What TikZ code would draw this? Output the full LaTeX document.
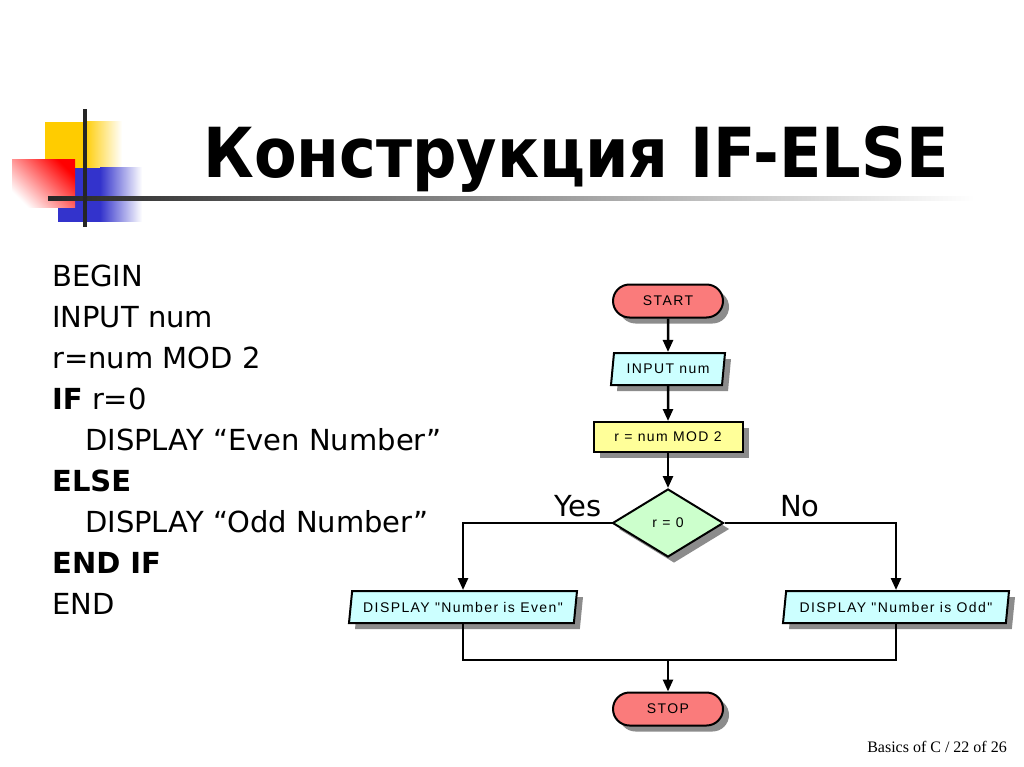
\documentclass[tikz,border=0pt]{standalone}
\usepackage{fontspec}
\setmainfont{DejaVu Sans}
\newfontfamily\titlefont{DejaVu Sans Condensed}
\newfontfamily\fcfont[LetterSpace=10]{Liberation Sans}
\newfontfamily\footfont{Liberation Serif}
\usetikzlibrary{shapes.geometric,shapes.misc,shadows,arrows.meta}
\definecolor{termred}{HTML}{FA7B7B}
\definecolor{iocyan}{HTML}{CCFFFF}
\definecolor{procyel}{HTML}{FFFF99}
\definecolor{decgreen}{HTML}{CCFFCC}
\definecolor{shadowgray}{HTML}{8C8C8C}
\definecolor{decoyellow}{HTML}{FFCC00}
\definecolor{decoblue}{HTML}{3333CC}
\tikzset{
  fcbase/.style={draw=black, line width=2pt, font=\fcfont\fontsize{14}{16}\selectfont,
    inner sep=0pt, text=black,
    drop shadow={shadow xshift=6pt, shadow yshift=-6pt, fill=shadowgray, opacity=1}},
  fcterm/.style={fcbase, rounded rectangle, fill=termred, minimum width=110pt, minimum height=33pt},
  fcio/.style={fcbase, trapezium, trapezium left angle=73, trapezium right angle=107,
    trapezium stretches body, fill=iocyan, minimum height=32pt},
  fcproc/.style={fcbase, rectangle, fill=procyel, minimum width=149pt, minimum height=30pt},
  fcdec/.style={fcbase, diamond, fill=decgreen, minimum width=111pt, minimum height=68pt},
  flow/.style={line width=2.5pt, -{Triangle[length=12pt,width=10pt]}},
  link/.style={line width=2.5pt},
  codeline/.style={anchor=base west, font=\fontsize{29}{33}\selectfont, inner sep=0pt},
  ynlabel/.style={anchor=base, font=\fontsize{29}{33}\selectfont, inner sep=0pt},
}
\begin{document}
\begin{tikzpicture}[x=1pt,y=-1pt]
\useasboundingbox[fill=white] (0,0) rectangle (1024,767);
% decoration
\fill[decoyellow] (45,122) rectangle (84,168);
\shade[left color=decoyellow, right color=white] (84,122) rectangle (122,168);
\fill[decoblue] (58,168) rectangle (100,222);
\shade[left color=decoblue, right color=white] (100,168) rectangle (142,222);
\shade[top color=red, bottom color=white, shading angle=-45] (12,160) rectangle (75,208);
\shade[left color=black!85, right color=white] (48,197) rectangle (975,201);
\fill[black!85] (83,109) rectangle (87,227);
% title
\node[anchor=base, font=\titlefont\bfseries\fontsize{69}{80}\selectfont, inner sep=0pt] (title) at (576,178) {Конструкция IF-ELSE};
% pseudo code
\node[codeline] (l1) at (52,286) {BEGIN};
\node[codeline] (l2) at (52,327) {INPUT num};
\node[codeline] (l3) at (52,368) {r=num MOD 2};
\node[codeline] (l4) at (52,409) {\textbf{IF} r=0};
\node[codeline] (l5) at (85,450) {DISPLAY “Even Number”};
\node[codeline] (l6) at (52,491) {\textbf{ELSE}};
\node[codeline] (l7) at (85,532) {DISPLAY “Odd Number”};
\node[codeline] (l8) at (52,573) {\textbf{END IF}};
\node[codeline] (l9) at (52,614) {END};
% flowchart
\node[fcterm] (start) at (668,301) {START};
\node[fcio, minimum width=114pt] (input) at (668,369) {INPUT num};
\node[fcproc] (calc) at (668,437) {r = num MOD 2};
\node[fcdec] (cond) at (668,523) {r = 0};
\node[fcio, minimum width=228pt] (even) at (463,607) {DISPLAY "Number is Even"};
\node[fcio, minimum width=226pt] (odd) at (896,607) {DISPLAY "Number is Odd"};
\node[fcterm] (stop) at (668,709) {STOP};
\coordinate (merge) at (668,660);
\draw[flow] (start.south) -- (input.north);
\draw[flow] (input.south) -- (calc.north);
\draw[flow] (calc.south) -- (cond.north);
\draw[flow] (cond.west) -| (even.north);
\draw[flow] (cond.east) -| (odd.north);
\draw[link] (even.south) |- (merge) -| (odd.south);
\draw[flow] (merge) -- (stop.north);
\node[ynlabel] (yes) at (578,516) {Yes};
\node[ynlabel] (no) at (800,516) {No};
% footer
\node[anchor=base east, font=\footfont\fontsize{16}{18}\selectfont, inner sep=0pt] (foot) at (1007,752) {Basics of C / 22 of 26};
\end{tikzpicture}
\end{document}
